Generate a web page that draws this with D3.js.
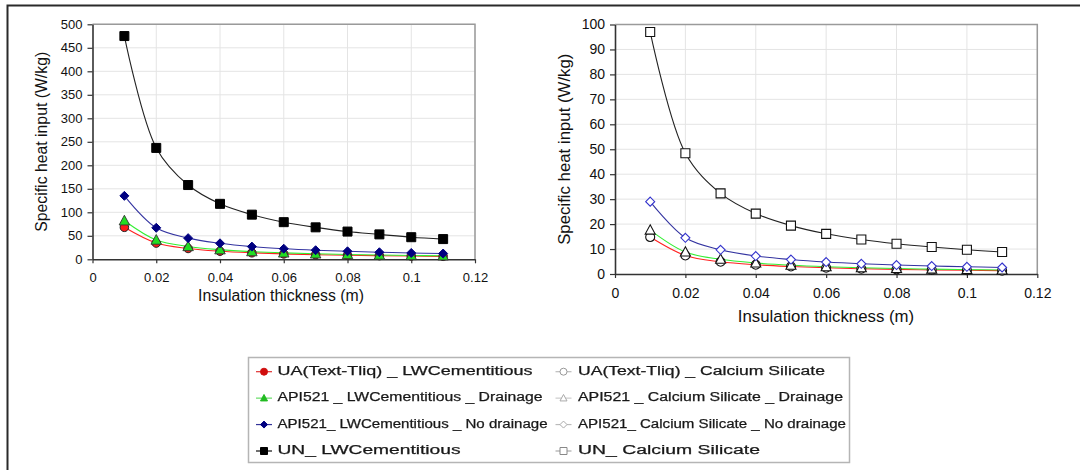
<!DOCTYPE html>
<html>
<head>
<meta charset="utf-8">
<script src="https://cdn.jsdelivr.net/npm/d3@7/dist/d3.min.js"></script>
<style>
  html, body { margin: 0; padding: 0; background: #fff; }
  svg { display: block; font-family: Arial, "Liberation Sans", sans-serif; }
</style>
</head>
<body>
<svg id="chart" width="1080" height="470"></svg>
<script>
// Insulation thickness (m)
const thickness = [0.01, 0.02, 0.03, 0.04, 0.05, 0.06, 0.07, 0.08, 0.09, 0.10, 0.11];

// Specific heat input (W/kg) – lightweight cementitious insulation
const uaLW = [68, 34.5, 23, 17.2, 13.8, 11.5, 9.8, 8.6, 7.7, 6.9, 6.3];
const drainLW = [82, 41, 27.3, 20.5, 16.4, 13.7, 11.7, 10.3, 9.1, 8.2, 7.5];
const noDrainLW = [135, 67, 45, 34, 27, 22.5, 19.3, 17, 15, 13.5, 12.3];
const unLW = [475, 237, 158, 118, 95, 79, 68, 59, 53, 47, 43];

// Specific heat input (W/kg) – calcium silicate insulation
const uaCS = [14.8, 7.4, 4.9, 3.7, 3.0, 2.5, 2.1, 1.85, 1.65, 1.5, 1.35];
const drainCS = [17.6, 8.8, 5.9, 4.4, 3.5, 2.9, 2.5, 2.2, 1.95, 1.75, 1.6];
const noDrainCS = [29, 14.5, 9.7, 7.2, 5.8, 4.8, 4.1, 3.6, 3.2, 2.9, 2.6];
const unCS = [97, 48.4, 32.3, 24.2, 19.4, 16.1, 13.8, 12.1, 10.8, 9.7, 8.8];

// Axis ticks
const xTicks = [0, 0.02, 0.04, 0.06, 0.08, 0.10, 0.12];
const xTickLabels = ["0", "0.02", "0.04", "0.06", "0.08", "0.1", "0.12"];
const yTicksLW = [0, 50, 100, 150, 200, 250, 300, 350, 400, 450, 500];
const yTicksCS = [0, 10, 20, 30, 40, 50, 60, 70, 80, 90, 100];

// Legend entries
const legendLW = ["UA(Text-Tliq) _ LWCementitious", "API521 _ LWCementitious _ Drainage",
                  "API521_ LWCementitious _ No drainage", "UN_ LWCementitious"];
const legendCS = ["UA(Text-Tliq) _ Calcium Silicate", "API521 _ Calcium Silicate _ Drainage",
                  "API521_ Calcium Silicate _ No drainage", "UN_ Calcium Silicate"];

const yTitle = "Specific heat input (W/kg)";
const xTitle = "Insulation thickness (m)";

const svg = d3.select("#chart");

// Outer frame (top and left edges)
svg.append("path")
  .attr("d", "M7.5,470 L7.5,5.5 L1080,5.5")
  .attr("fill", "none").attr("stroke", "#2a2a2a").attr("stroke-width", 2);

const shapes = ["circle", "triangle", "diamond", "square"];
const lineColors = ["#ff2020", "#33ee33", "#3333a0", "#222222"];

function markerPath(shape, s) {
  const h = s / 2;
  if (shape === "circle") return d3.symbol(d3.symbolCircle, Math.PI * h * h)();
  if (shape === "square") return `M${-h},${-h}H${h}V${h}H${-h}Z`;
  if (shape === "diamond") return `M0,${-h}L${h},0L0,${h}L${-h},0Z`;
  return `M0,${-h * 1.05}L${h},${h * 0.8}L${-h},${h * 0.8}Z`;
}

function drawPanel(cfg) {
  const x = d3.scaleLinear().domain([0, 0.12]).range([cfg.left, cfg.right]);
  const y = d3.scaleLinear().domain([0, cfg.yMax]).range([cfg.bottom, cfg.top]);
  const g = svg.append("g");

  // gridlines
  g.append("g").selectAll("line").data(cfg.yTicks.slice(1)).join("line")
    .attr("x1", cfg.left).attr("x2", cfg.right)
    .attr("y1", d => y(d)).attr("y2", d => y(d))
    .attr("stroke", "#e4e4e4").attr("stroke-width", 1);
  g.append("g").selectAll("line").data(xTicks.slice(1)).join("line")
    .attr("x1", d => x(d)).attr("x2", d => x(d))
    .attr("y1", cfg.top).attr("y2", cfg.bottom)
    .attr("stroke", "#e4e4e4").attr("stroke-width", 1);

  // plot area border (top/right)
  g.append("path")
    .attr("d", `M${cfg.left},${cfg.top}H${cfg.right}V${cfg.bottom}`)
    .attr("fill", "none").attr("stroke", "#9a9a9a").attr("stroke-width", 1.5);

  // axes
  const yAxis = d3.axisLeft(y).tickValues(cfg.yTicks).tickSize(5).tickSizeOuter(0)
    .tickPadding(5).tickFormat(d => String(d));
  const xAxis = d3.axisBottom(x).tickValues(xTicks).tickSize(4).tickSizeOuter(0)
    .tickPadding(cfg.xPad).tickFormat((d, i) => xTickLabels[i]);

  const ya = g.append("g").attr("transform", `translate(${cfg.left},0)`).call(yAxis);
  const xa = g.append("g").attr("transform", `translate(0,${cfg.bottom})`).call(xAxis);
  [ya, xa].forEach(a => {
    a.select(".domain").attr("stroke", "#333").attr("stroke-width", 1.6);
    a.selectAll(".tick line").attr("stroke", "#333").attr("stroke-width", 1.2);
    a.selectAll("text").attr("fill", "#111").attr("font-size", cfg.tickFont)
      .attr("font-family", "Arial, 'Liberation Sans', sans-serif");
  });

  // axis titles
  g.append("text")
    .attr("transform", `translate(${cfg.yTitleX},${(cfg.top + cfg.bottom) / 2}) rotate(-90)`)
    .attr("text-anchor", "middle").attr("dominant-baseline", "middle")
    .attr("font-size", cfg.titleFont).attr("fill", "#111").text(yTitle);
  g.append("text")
    .attr("x", cfg.xTitleX).attr("y", cfg.xTitleY)
    .attr("text-anchor", "middle").attr("dominant-baseline", "middle")
    .attr("font-size", cfg.titleFont).attr("fill", "#111").text(xTitle);

  const line = d3.line().x(d => x(d[0])).y(d => y(d[1])).curve(d3.curveCatmullRom.alpha(0.5));

  cfg.series.forEach((vals, i) => {
    const pts = thickness.map((t, j) => [t, vals[j]]);
    g.append("path").attr("d", line(pts)).attr("fill", "none")
      .attr("stroke", lineColors[i]).attr("stroke-width", 1.1);
  });
  cfg.series.forEach((vals, i) => {
    const pts = thickness.map((t, j) => [t, vals[j]]);
    const st = cfg.markerStyle[i];
    g.append("g").selectAll("path").data(pts).join("path")
      .attr("transform", d => `translate(${x(d[0])},${y(d[1])})`)
      .attr("d", markerPath(shapes[i], st.size))
      .attr("fill", st.fill).attr("stroke", st.stroke).attr("stroke-width", st.sw);
  });
}

drawPanel({
  left: 92.5, right: 475, top: 24.3, bottom: 259.3, yMax: 500, yTicks: yTicksLW,
  tickFont: 13, titleFont: 15.8, xPad: 9,
  yTitleX: 43, xTitleX: 281, xTitleY: 297,
  series: [uaLW, drainLW, noDrainLW, unLW],
  markerStyle: [
    { size: 8.5, fill: "#ff1a1a", stroke: "#222", sw: 1 },
    { size: 10.5, fill: "#22dd22", stroke: "#333", sw: 0.9 },
    { size: 9, fill: "#000080", stroke: "#000080", sw: 1 },
    { size: 9, fill: "#000", stroke: "#000", sw: 1 }
  ]
});

drawPanel({
  left: 615, right: 1037.3, top: 24.5, bottom: 274, yMax: 100, yTicks: yTicksCS,
  tickFont: 14, titleFont: 16.8, xPad: 10,
  yTitleX: 566, xTitleX: 826, xTitleY: 318,
  series: [uaCS, drainCS, noDrainCS, unCS],
  markerStyle: [
    { size: 9, fill: "#fff", stroke: "#111", sw: 1.1 },
    { size: 10, fill: "#fff", stroke: "#111", sw: 1.1 },
    { size: 9, fill: "#fff", stroke: "#3333cc", sw: 1.1 },
    { size: 9, fill: "#fff", stroke: "#111", sw: 1.1 }
  ]
});

// Legend
const defs = svg.append("defs");
defs.append("filter").attr("id", "soft")
  .append("feGaussianBlur").attr("stdDeviation", 0.45);

const leg = svg.append("g").attr("filter", "url(#soft)");
leg.append("rect").attr("x", 248.5).attr("y", 357.5).attr("width", 601).attr("height", 105)
  .attr("fill", "#fff").attr("stroke", "#b5b5b5").attr("stroke-width", 1.5);

const rowY = d3.scalePoint().domain(d3.range(4)).range([371.7, 451]);
const colDefs = [
  { mx: 264, tx: 277.5, labels: legendLW, width: [255, 265, 270, 183],
    lineCol: ["#e03030", "#66dd66", "#333399", "#111"],
    fill: ["#d01010", "#22bb22", "#000080", "#000"], stroke: ["#d01010", "#22bb22", "#000080", "#000"] },
  { mx: 563.5, tx: 578, labels: legendCS, width: [247, 265, 268, 182],
    lineCol: ["#bbb", "#ccc", "#bbb", "#aaa"],
    fill: ["#fff", "#fff", "#fff", "#fff"], stroke: ["#999", "#aaa", "#aaa", "#888"] }
];
colDefs.forEach(c => {
  c.labels.forEach((lab, i) => {
    const yy = rowY(i);
    leg.append("line").attr("x1", c.mx - 8).attr("x2", c.mx + 8).attr("y1", yy).attr("y2", yy)
      .attr("stroke", c.lineCol[i]).attr("stroke-width", 1.2);
    leg.append("path").attr("transform", `translate(${c.mx},${yy})`)
      .attr("d", markerPath(shapes[i], 7))
      .attr("fill", c.fill[i]).attr("stroke", c.stroke[i]).attr("stroke-width", 1);
    leg.append("text").attr("x", c.tx).attr("y", yy).attr("dominant-baseline", "middle")
      .attr("font-size", 12).attr("fill", "#1a1a1a")
      .attr("stroke", "#1a1a1a").attr("stroke-width", 0.25)
      .attr("textLength", c.width[i]).attr("lengthAdjust", "spacingAndGlyphs")
      .text(lab);
  });
});
</script>
</body>
</html>
